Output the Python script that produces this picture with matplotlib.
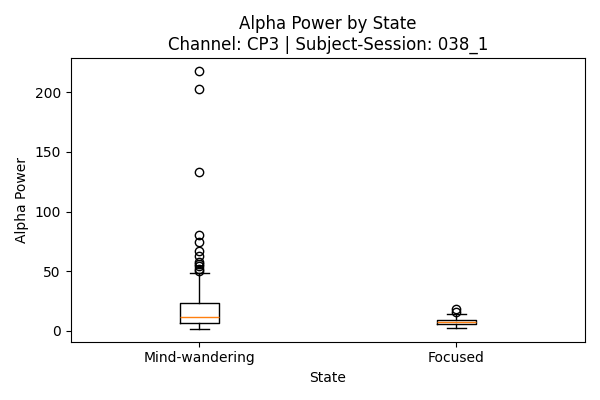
import matplotlib
matplotlib.use("Agg")
import matplotlib.pyplot as plt

states = ["Mind-wandering", "Focused"]
whislo = [1.5, 2.5]
q1 = [6.6, 5.2]
med = [11.5, 7.0]
q3 = [23.0, 9.0]
whishi = [48.0, 14.0]
fliers = [
    [218, 203, 133, 80, 74, 67, 63, 58, 56, 54, 52, 50],
    [16.0, 18.5],
]

stats = [dict(label=s, whislo=a, q1=b, med=c, q3=d, whishi=e, fliers=f)
         for s, a, b, c, d, e, f in zip(states, whislo, q1, med, q3, whishi, fliers)]

fig, ax = plt.subplots(figsize=(6, 4), dpi=100)
ax.bxp(stats)
ax.set_title("Alpha Power by State\nChannel: CP3 | Subject-Session: 038_1")
ax.set_xlabel("State")
ax.set_ylabel("Alpha Power")
fig.tight_layout()
fig.savefig("out.png")
